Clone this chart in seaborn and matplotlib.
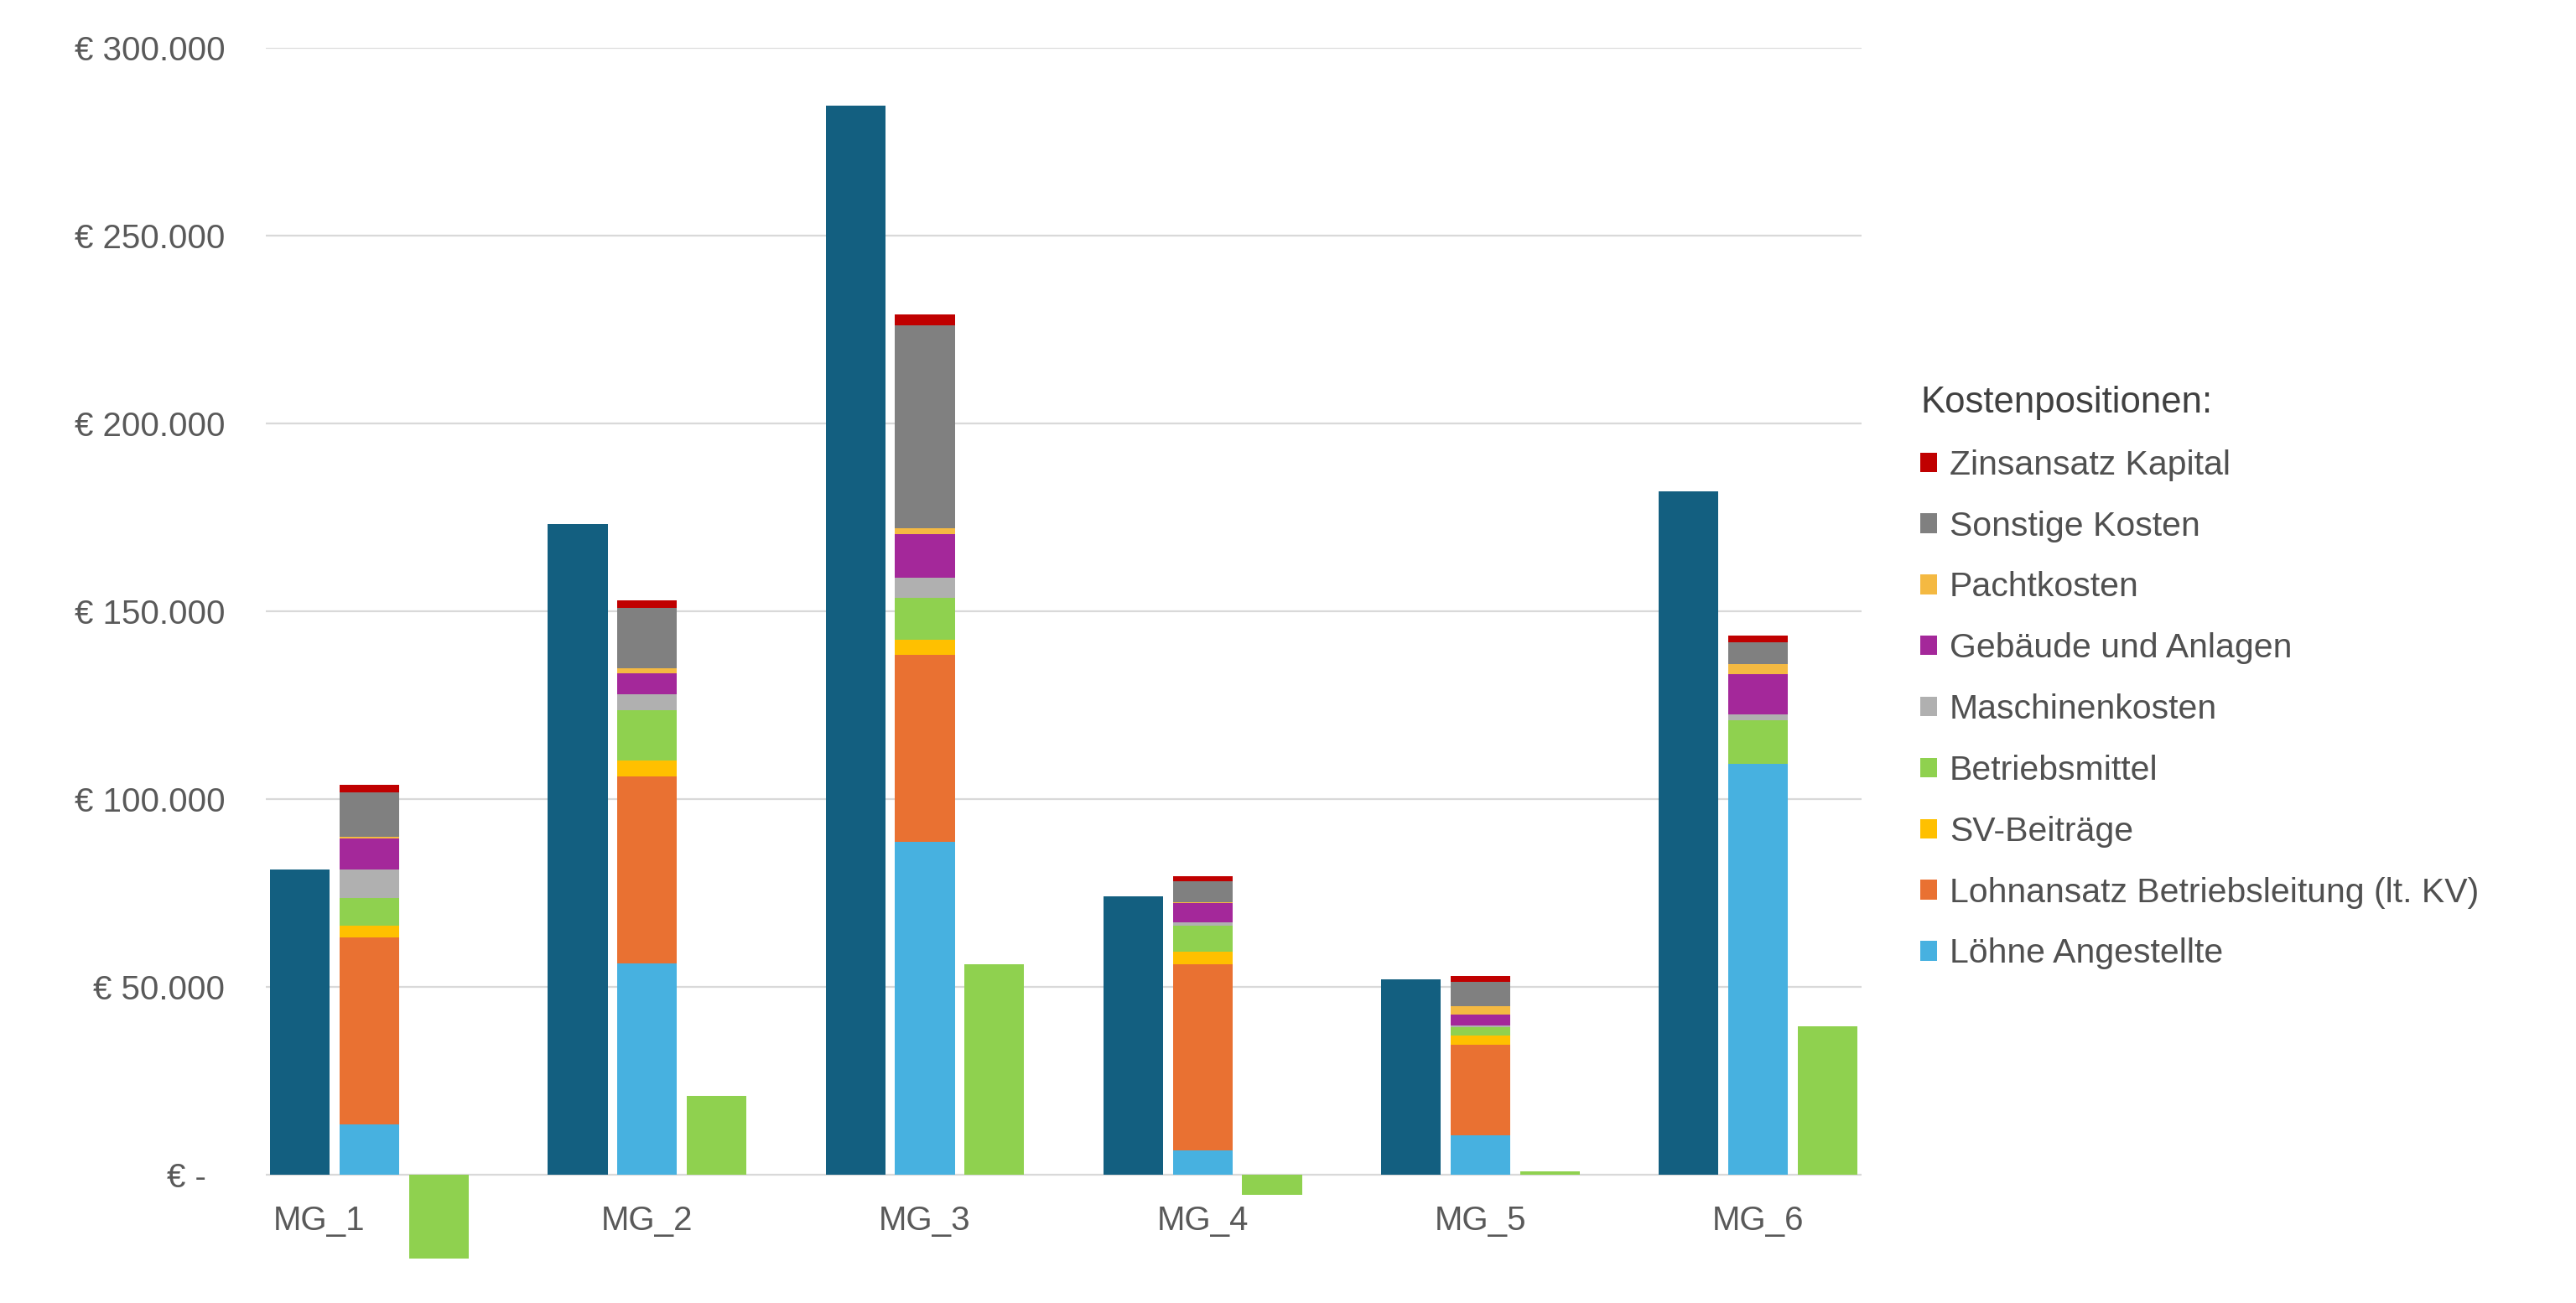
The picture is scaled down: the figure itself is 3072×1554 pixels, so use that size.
import numpy as np
import pandas as pd
import seaborn as sns
import matplotlib.pyplot as plt
from matplotlib.patches import Patch
from matplotlib.ticker import FuncFormatter
import matplotlib.transforms as mtransforms

gruppen = ["MG_1", "MG_2", "MG_3", "MG_4", "MG_5", "MG_6"]

erloes = [81200, 173200, 284600, 74100, 51900, 182000]
gewinn = [-22500, 21000, 56000, -5500, 800, 39400]

# Kostenpositionen, von unten nach oben gestapelt
kosten_namen = ["Löhne Angestellte", "Lohnansatz Betriebsleitung (lt. KV)", "SV-Beiträge",
                "Betriebsmittel", "Maschinenkosten", "Gebäude und Anlagen",
                "Pachtkosten", "Sonstige Kosten", "Zinsansatz Kapital"]
loehne = [13400, 56200, 88600, 6300, 10400, 109400]
lohnansatz = [49800, 49700, 49800, 49700, 24200, 0]
sv_beitraege = [3000, 4300, 4000, 3400, 2300, 0]
betriebsmittel = [7300, 13500, 11200, 6900, 2400, 11600]
maschinen = [7700, 4100, 5200, 800, 400, 1500]
gebaeude = [8300, 5600, 11800, 5200, 2900, 10800]
pacht = [500, 1300, 1400, 300, 2300, 2600]
sonstige = [11700, 16200, 54000, 5500, 6400, 5900]
zins = [2000, 1900, 3000, 1300, 1500, 1700]

kosten = [loehne, lohnansatz, sv_beitraege, betriebsmittel, maschinen,
          gebaeude, pacht, sonstige, zins]
kosten_farben = ["#47b1e0", "#e97132", "#ffc000", "#8fd14f", "#b0b0b0",
                 "#a4289a", "#f4b942", "#808080", "#c00000"]

farbe_erloes = "#135f80"
farbe_gewinn = "#8fd14f"
grau_text = "#595959"

sns.set_theme(style="white")
plt.rcParams["font.family"] = ["Liberation Sans", "DejaVu Sans"]

fig = plt.figure(figsize=(30.72, 15.54), dpi=100)
ax = fig.add_axes([0.1032, 0.0122, 0.6195, 0.9511])

hue_order = ["Erlös", "Kosten", "Gewinn"]
bar_args = dict(x="gruppe", y="wert", hue="serie", hue_order=hue_order, order=gruppen,
                width=0.75, gap=0.14, errorbar=None, legend=False, linewidth=0,
                saturation=1, ax=ax)
null = [0] * len(gruppen)


def serien_df(e, k, g):
    return pd.DataFrame({
        "gruppe": gruppen * 3,
        "wert": list(e) + list(k) + list(g),
        "serie": ["Erlös"] * 6 + ["Kosten"] * 6 + ["Gewinn"] * 6,
    })


sns.barplot(data=serien_df(erloes, null, gewinn),
            palette={"Erlös": farbe_erloes, "Kosten": "white", "Gewinn": farbe_gewinn},
            **bar_args)

# gestapelte Kosten: kumulierte Summen von oben nach unten übereinander zeichnen
kum = np.cumsum(np.array(kosten, dtype=float), axis=0)
for k in range(len(kosten) - 1, -1, -1):
    sns.barplot(data=serien_df(null, kum[k], null),
                palette={"Erlös": farbe_erloes, "Kosten": kosten_farben[k],
                         "Gewinn": farbe_gewinn}, **bar_args)

ax.set_xlim(-0.373, 5.373)
ax.set_ylim(-30000, 300000)


def euro(v, pos):
    if abs(v) < 1:
        return "€ -\u00a0\u00a0"
    return "€ " + f"{v:,.0f}".replace(",", ".")


ax.set_yticks(np.arange(0, 300001, 50000))
ax.yaxis.set_major_formatter(FuncFormatter(euro))
ax.tick_params(axis="y", length=0, pad=35, labelsize=29, labelcolor=grau_text)
ax.set_xticks([])
ax.set_xlabel("")
ax.set_ylabel("")
ax.grid(axis="y", color="#d9d9d9", linewidth=1.6)
ax.set_axisbelow(True)
for s in ax.spines.values():
    s.set_visible(False)

# Kategorienbeschriftung direkt unter der Nulllinie
trans = mtransforms.offset_copy(ax.transData, fig=fig, x=0, y=-36, units="dots")
for i, g in enumerate(gruppen):
    xpos = i - 0.18 if i == 0 else i
    ax.text(xpos, 0, g, transform=trans, ha="center", va="top",
            fontsize=29, color=grau_text)

handles = [Patch(facecolor=c, edgecolor="none") for c in kosten_farben][::-1]
leg = fig.legend(handles, kosten_namen[::-1], title="Kostenpositionen:",
                 loc="upper left", bbox_to_anchor=(2290 / 3072, 1 - 460 / 1554),
                 frameon=False, fontsize=29.5, title_fontsize=31.5, alignment="left",
                 handlelength=0.5, handleheight=0.5, handletextpad=0.35,
                 labelspacing=0.85, borderpad=0, borderaxespad=0)
for t in leg.get_texts():
    t.set_color("#505050")
leg.get_title().set_color("#404040")

fig.savefig("out.png", dpi=100, facecolor="white")
